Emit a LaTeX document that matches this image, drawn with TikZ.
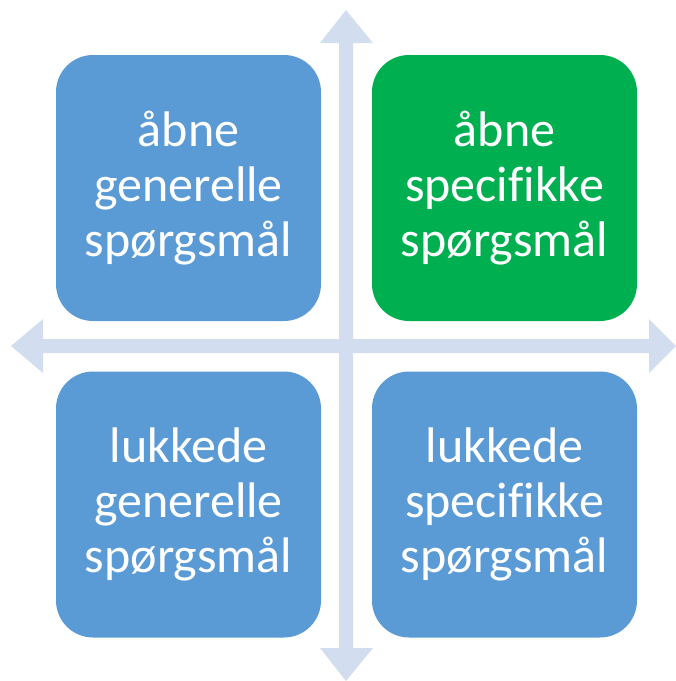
\documentclass[tikz,border=0pt]{standalone}
\usepackage{fontspec}
\setmainfont[Ligatures={NoCommon}]{Carlito}
\definecolor{boxblue}{RGB}{91,155,213}
\definecolor{boxgreen}{RGB}{0,176,80}
\definecolor{arrowcol}{RGB}{210,222,239}
\begin{document}
\begin{tikzpicture}[x=1pt,y=-1pt,
  quad/.style={draw=none, rounded corners=37pt, minimum width=265pt, minimum height=266pt,
    inner sep=0pt, text=white, align=center, font=\fontsize{50}{55}\selectfont},
  arrowfill/.style={fill=arrowcol, draw=none}]
\useasboundingbox (0,0) rectangle (676,681);
% horizontal double arrow
\fill[arrowfill] (11,346) -- (43,319) -- (43,339) -- (649,339) -- (649,319) -- (676,346)
  -- (649,373) -- (649,353) -- (43,353) -- (43,373) -- cycle;
% vertical double arrow
\fill[arrowfill] (346,10) -- (373,43) -- (353,43) -- (353,648) -- (373,648) -- (346,681)
  -- (320,648) -- (339,648) -- (339,43) -- (320,43) -- cycle;
\node[quad, fill=boxblue] (tl) at (188.5,188) {åbne\\generelle\\spørgsmål};
\node[quad, fill=boxgreen] (tr) at (504.5,188) {åbne\\specifikke\\spørgsmål};
\node[quad, fill=boxblue] (bl) at (188.5,504.5) {lukkede\\generelle\\spørgsmål};
\node[quad, fill=boxblue] (br) at (504.5,504.5) {lukkede\\specifikke\\spørgsmål};
\end{tikzpicture}
\end{document}
